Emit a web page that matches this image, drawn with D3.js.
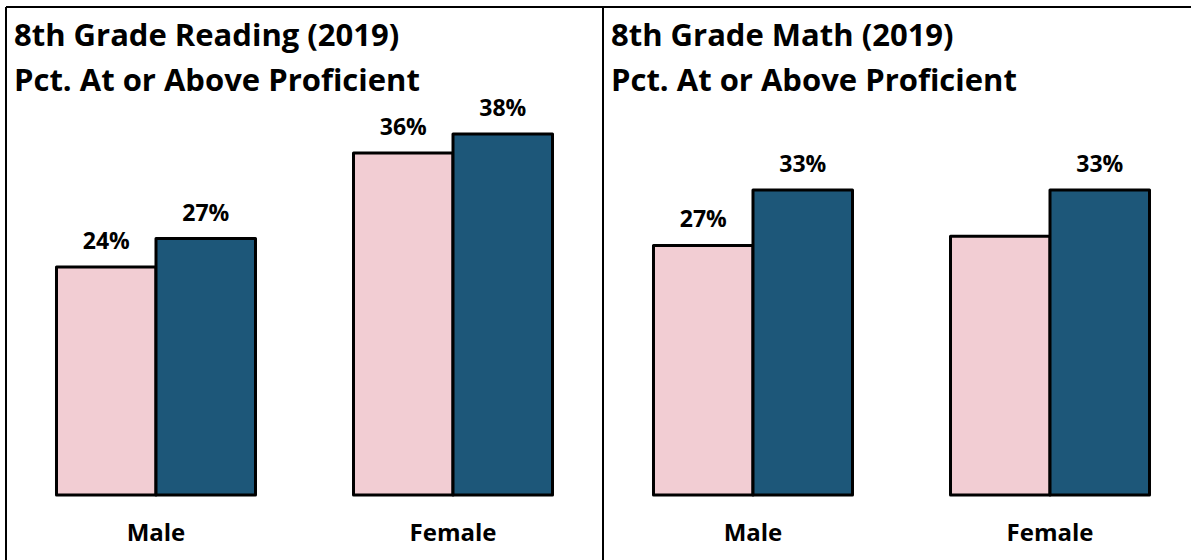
<!DOCTYPE html>
<html lang='en'>
<head>
<meta http-equiv='Content-Type' content='text/html;charset=utf-8'/>
<title>8th Grade Proficiency</title>
<script src='https://d3js.org/d3.v7.min.js'></script>
<style>
  body { margin: 0; background: #fff; }
  text { font-family: 'Open Sans', Lato, sans-serif; font-weight: 700; fill: #000; }
</style>
</head>
<body>
<script>
'use strict'
const categories = ['Male', 'Female']
const series = ['Group A', 'Group B']
const colors = ['#f2cdd3', '#1d5779']

const readingValues = [[24, 27], [36, 38]]
const readingLabels = [['24%', '27%'], ['36%', '38%']]
const mathValues = [[27, 33], [28, 33]]
const mathLabels = [['27%', '33%'], ['', '33%']]

const width = 1191
const height = 560

const svg = d3.select('body').append('svg')
  .attr('width', width)
  .attr('height', height)

svg.append('rect')
  .attr('width', '100%')
  .attr('height', '100%')
  .attr('fill', '#ffffff')

// frame lines (cropped box)
svg.append('line').attr('x1', 6).attr('x2', width).attr('y1', 7).attr('y2', 7)
  .attr('stroke', '#000').attr('stroke-width', 2)
svg.append('line').attr('x1', 6).attr('x2', 6).attr('y1', 7).attr('y2', height)
  .attr('stroke', '#000').attr('stroke-width', 2)
svg.append('line').attr('x1', 603).attr('x2', 603).attr('y1', 7).attr('y2', height)
  .attr('stroke', '#000').attr('stroke-width', 2)

function panel(x0, x1, titleLines, values, labels, yTop)
{
  const g = svg.append('g')

  g.selectAll('text.title').data(titleLines).enter().append('text')
    .attr('class', 'title')
    .attr('x', x0 + 8)
    .attr('y', (d, i) => 46 + i * 45)
    .attr('font-size', 31)
    .text(d => d)

  const x = d3.scaleBand().domain(categories).range([x0, x1]).paddingInner(0.33).paddingOuter(0.17)
  const xs = d3.scaleBand().domain(series).range([0, x.bandwidth()])
  const maxV = d3.max(values, d => d3.max(d))
  const y = d3.scaleLinear().domain([0, maxV]).range([495, yTop])

  const groups = g.selectAll('g.cat').data(categories).enter().append('g')
    .attr('transform', d => 'translate(' + x(d) + ',0)')

  groups.selectAll('rect').data((d, i) => values[i].map((v, j) => ({v: v, s: series[j], j: j})))
    .enter().append('rect')
    .attr('x', d => xs(d.s))
    .attr('width', xs.bandwidth())
    .attr('y', d => y(d.v))
    .attr('height', d => y(0) - y(d.v))
    .attr('fill', d => colors[d.j])
    .attr('stroke', '#000')
    .attr('stroke-width', 3)
    .attr('stroke-linejoin', 'round')

  groups.selectAll('text.val').data((d, i) => values[i].map((v, j) => ({v: v, s: series[j], t: labels[i][j]})))
    .enter().append('text')
    .attr('class', 'val')
    .attr('x', d => xs(d.s) + xs.bandwidth() / 2)
    .attr('y', d => y(d.v) - 18)
    .attr('text-anchor', 'middle')
    .attr('font-size', 23)
    .text(d => d.t)

  g.selectAll('text.cat').data(categories).enter().append('text')
    .attr('class', 'cat')
    .attr('x', d => x(d) + x.bandwidth() / 2)
    .attr('y', 541)
    .attr('text-anchor', 'middle')
    .attr('font-size', 24)
    .text(d => d)
}

panel(6, 603, ['8th Grade Reading (2019)', 'Pct. At or Above Proficient'], readingValues, readingLabels, 134)
panel(603, 1200, ['8th Grade Math (2019)', 'Pct. At or Above Proficient'], mathValues, mathLabels, 190)
</script>
</body>
</html>
